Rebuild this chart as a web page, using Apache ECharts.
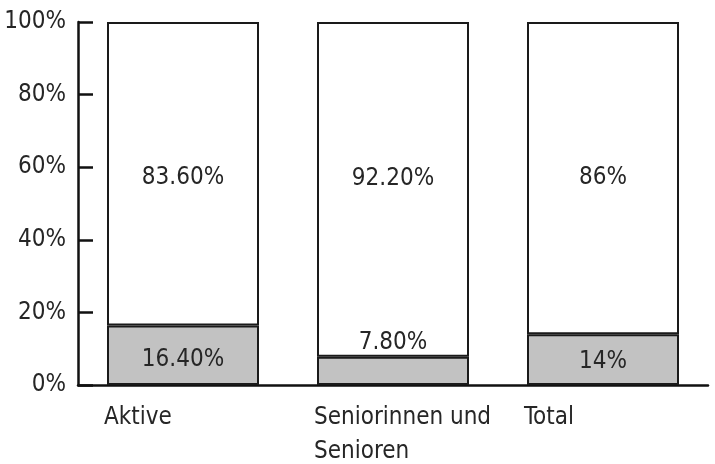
<!DOCTYPE html>
<html>
<head>
<meta charset="utf-8">
<script src="https://cdn.jsdelivr.net/npm/echarts@6/dist/echarts.min.js"></script>
<style>
  html, body { margin: 0; padding: 0; background: #fff; }
  #main { width: 715px; height: 464px; }
</style>
</head>
<body>
<div id="main"></div>
<script>
// Anteile je Gruppe (in Prozent)
const gruppen = ['Aktive', 'Seniorinnen und\nSenioren', 'Total'];
const anteilUnten = [16.4, 7.8, 14];
const anteilOben = [83.6, 92.2, 86];
const labelsUnten = ['16.40%', '7.80%', '14%'];
const labelsOben = ['83.60%', '92.20%', '86%'];

const schrift = '"DejaVu Sans Condensed", "Liberation Sans Narrow", sans-serif';
const textFarbe = '#262626';
const groesse = 24;

var chartDom = document.getElementById('main');
var myChart = echarts.init(chartDom);

// kleine Korrekturen, damit die Beschriftungen wie im Original sitzen
const offsetUnten = [[0, 5], [0, 0], [0, 2]];
const offsetOben = [[0, 4], [0, -11], [0, 0]];

var option = {
  animation: false,
  grid: { left: 78, right: 7, top: 22, bottom: 72 },
  xAxis: {
    type: 'category',
    data: gruppen,
    axisLine: { lineStyle: { color: '#111', width: 2.5 } },
    axisTick: { inside: true, length: 8, lineStyle: { color: '#111', width: 2.5 }, interval: 0 },
    axisLabel: {
      interval: 0,
      margin: 16,
      width: 158,
      align: 'center',
      formatter: function (v) {
        return v.split('\n').map(s => '{a|' + s + '}').join('\n');
      },
      rich: {
        a: { align: 'left', fontFamily: schrift, fontSize: groesse, color: textFarbe, lineHeight: 34 }
      }
    }
  },
  yAxis: {
    type: 'value',
    min: 0,
    max: 100,
    interval: 20,
    splitLine: { show: false },
    axisLine: { show: true, lineStyle: { color: '#111', width: 2.5 } },
    axisTick: { show: true, inside: true, length: 15, lineStyle: { color: '#111', width: 2.5 } },
    axisLabel: {
      margin: 12,
      formatter: '{value}%',
      fontFamily: schrift,
      fontSize: groesse,
      color: textFarbe
    }
  },
  series: [
    {
      type: 'bar',
      stack: 'a',
      barWidth: 152,
      itemStyle: { color: '#c2c2c2', borderColor: '#1a1a1a', borderWidth: 2 },
      data: anteilUnten.map((v, i) => ({
        value: v,
        label: {
          show: true,
          position: i === 1 ? 'top' : 'inside',
          distance: 2,
          offset: offsetUnten[i],
          formatter: labelsUnten[i]
        }
      })),
      label: { fontFamily: schrift, fontSize: groesse, color: textFarbe }
    },
    {
      type: 'bar',
      stack: 'a',
      barWidth: 152,
      itemStyle: { color: '#ffffff', borderColor: '#1a1a1a', borderWidth: 2 },
      data: anteilOben.map((v, i) => ({
        value: v,
        label: {
          show: true,
          position: 'inside',
          offset: offsetOben[i],
          formatter: labelsOben[i]
        }
      })),
      label: { fontFamily: schrift, fontSize: groesse, color: textFarbe }
    }
  ]
};
option && myChart.setOption(option);
</script>
</body>
</html>
